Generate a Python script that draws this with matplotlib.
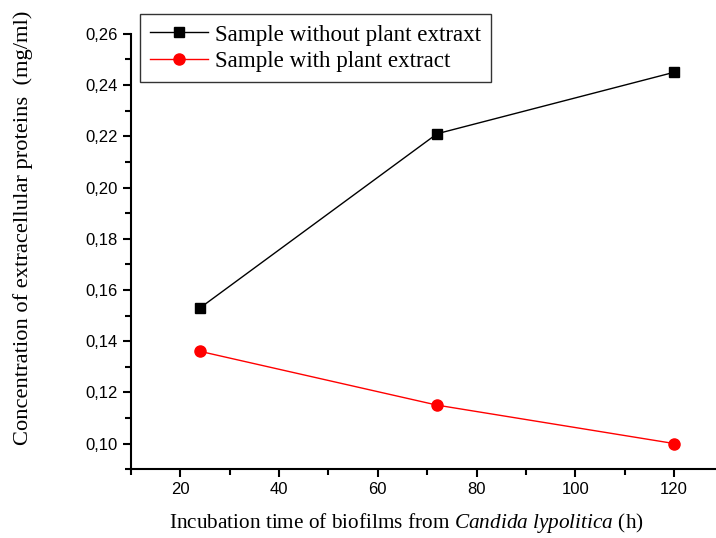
import matplotlib.pyplot as plt
from matplotlib.ticker import MultipleLocator, FuncFormatter

hours = [24, 72, 120]
without_extract = [0.153, 0.221, 0.245]
with_extract = [0.136, 0.115, 0.100]


def main():
    plt.rcParams['mathtext.fontset'] = 'custom'
    plt.rcParams['mathtext.rm'] = 'Liberation Serif'
    plt.rcParams['mathtext.it'] = 'Liberation Serif:italic'

    fig = plt.figure(figsize=(7.16, 5.38), dpi=100)
    ax = fig.add_axes([0.183, 0.128, 0.817, 0.809])

    l1, = ax.plot(hours, without_extract, '-', color='black', lw=1,
                  marker='s', markersize=7, clip_on=False)
    l2, = ax.plot(hours, with_extract, '-', color='red', lw=1,
                  marker='o', markersize=8, clip_on=False)

    ax.set_xlim(10, 128.5)
    ax.set_ylim(0.09, 0.26)
    ax.xaxis.set_major_locator(MultipleLocator(20))
    ax.xaxis.set_minor_locator(MultipleLocator(10))
    ax.yaxis.set_major_locator(MultipleLocator(0.02))
    ax.yaxis.set_minor_locator(MultipleLocator(0.01))
    ax.yaxis.set_major_formatter(FuncFormatter(lambda v, p: ('%.2f' % v).replace('.', ',')))
    ax.set_xticks([20, 40, 60, 80, 100, 120])

    ax.spines['top'].set_visible(False)
    ax.spines['right'].set_visible(False)
    ax.spines['left'].set_linewidth(1.5)
    ax.spines['bottom'].set_linewidth(1.5)
    ax.tick_params(which='major', direction='out', length=6, width=1.5,
                   labelsize=12)
    ax.tick_params(which='minor', direction='out', length=4, width=1.5)
    for lab in ax.get_xticklabels() + ax.get_yticklabels():
        lab.set_family('Liberation Sans')

    fig.text(406 / 716, 1 - 523 / 538,
             'Incubation time of biofilms from $\\it{Candida\\ lypolitica}$ (h)',
             family='Liberation Serif', fontsize=15.3, ha='center', va='center')
    fig.text(23 / 716, 1 - 228 / 538,
             'Concentration of extracellular proteins  (mg/ml)',
             family='Liberation Serif', fontsize=16.2, rotation=90,
             ha='center', va='center')

    leg = fig.legend([l1, l2], ['Sample without plant extraxt', 'Sample with plant extract'],
                     loc='upper left', bbox_to_anchor=(140 / 716, 1 - 14 / 538),
                     prop={'family': 'Liberation Serif', 'size': 16.6},
                     frameon=True, fancybox=False, borderpad=0.45,
                     handlelength=2.5, labelspacing=0.22, handletextpad=0.3,
                     borderaxespad=0)
    leg.get_frame().set_edgecolor('black')
    leg.get_frame().set_linewidth(1)

    plt.savefig('out.png', dpi=100)


if __name__ == '__main__':
    main()
